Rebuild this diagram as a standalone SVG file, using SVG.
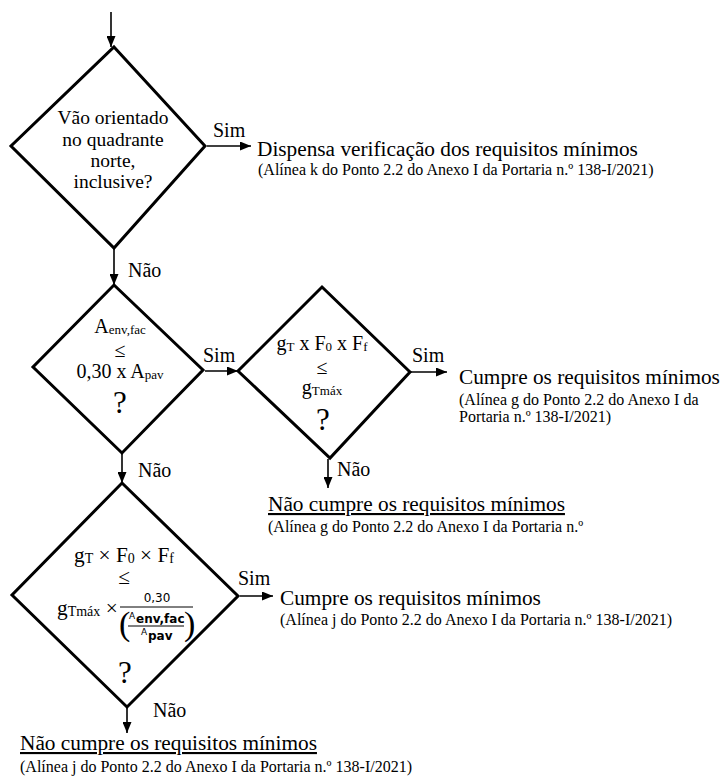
<svg xmlns="http://www.w3.org/2000/svg" width="722" height="778" viewBox="0 0 722 778">
<style>
text{font-family:"Liberation Serif","Times New Roman",serif;fill:#000}
.d{fill:#fff;stroke:#000;stroke-width:3;stroke-linejoin:miter}
.c{stroke:#000;stroke-width:1.6;fill:none}
.lb{font-size:20px}
.q{font-size:19.5px}
.m{font-size:20px}
.big{font-size:21.3px}
.sub{font-size:16px}
.qm{font-size:31px}
.u{text-decoration:underline}
.sf{font-family:"DejaVu Sans","Liberation Sans",sans-serif}
</style>
<defs>
<marker id="ah" markerUnits="userSpaceOnUse" markerWidth="11" markerHeight="9" refX="11" refY="4.5" orient="auto"><path d="M0,0 L11,4.5 L0,9 z" fill="#000"/></marker>
</defs>
<rect width="722" height="778" fill="#fff"/>
<g id="connectors">
<line class="c" x1="111" y1="12" x2="111" y2="47" marker-end="url(#ah)"/>
<line class="c" x1="207" y1="146" x2="251" y2="146" marker-end="url(#ah)"/>
<line class="c" x1="114" y1="248" x2="114" y2="285" marker-end="url(#ah)"/>
<line class="c" x1="205" y1="371" x2="238" y2="371" marker-end="url(#ah)"/>
<line class="c" x1="411" y1="372" x2="447" y2="372" marker-end="url(#ah)"/>
<line class="c" x1="328" y1="459" x2="328" y2="488" marker-end="url(#ah)"/>
<line class="c" x1="122" y1="453" x2="122" y2="483" marker-end="url(#ah)"/>
<line class="c" x1="240" y1="596" x2="273" y2="596" marker-end="url(#ah)"/>
<line class="c" x1="127" y1="707" x2="127" y2="733" marker-end="url(#ah)"/>
<text class="lb" x="213" y="137">Sim</text>
<text class="lb" x="128" y="277">Não</text>
<text class="lb" x="203" y="362">Sim</text>
<text class="lb" x="412" y="362">Sim</text>
<text class="lb" x="337" y="476">Não</text>
<text class="lb" x="138" y="477">Não</text>
<text class="lb" x="238" y="585">Sim</text>
<text class="lb" x="153" y="717">Não</text>
</g>
<g id="q1">
<polygon class="d" points="114,47 205,146 114,248 11,146"/>
<text class="q" text-anchor="middle" x="113" y="124">Vão orientado</text>
<text class="q" text-anchor="middle" x="113" y="146">no quadrante</text>
<text class="q" text-anchor="middle" x="113" y="167">norte,</text>
<text class="q" text-anchor="middle" x="113" y="188">inclusive?</text>
</g>
<g id="q2">
<polygon class="d" points="114,285 203,370 122,453 33,367"/>
<text class="m" text-anchor="middle" x="120" y="333">A<tspan font-size="13" dy="1">env,fac</tspan></text>
<text class="m" text-anchor="middle" x="120" y="357">≤</text>
<text class="m" text-anchor="middle" x="120" y="378">0,30 x A<tspan font-size="13" dy="1">pav</tspan></text>
<text class="qm" text-anchor="middle" x="120" y="413">?</text>
</g>
<g id="q3">
<polygon class="d" points="322,287 410,372 330,458 238,371"/>
<text class="m" text-anchor="middle" x="322" y="350">g<tspan font-size="13" dy="1">T</tspan><tspan dy="-1"> x F</tspan><tspan font-size="13" dy="1">0</tspan><tspan dy="-1"> x F</tspan><tspan font-size="13" dy="1">f</tspan></text>
<text class="m" text-anchor="middle" x="322" y="374">≤</text>
<text class="m" text-anchor="middle" x="322" y="394">g<tspan font-size="13" dy="1">Tmáx</tspan></text>
<text class="qm" text-anchor="middle" x="323" y="430">?</text>
</g>
<g id="q4">
<polygon class="d" points="122,483 238,596 127,707 12,595"/>
<text class="big" text-anchor="middle" x="124" y="562">g<tspan font-size="14" dy="1">T</tspan><tspan dy="-1"> × F</tspan><tspan font-size="14" dy="1">0</tspan><tspan dy="-1"> × F</tspan><tspan font-size="14" dy="1">f</tspan></text>
<text class="big" text-anchor="middle" x="124" y="584">≤</text>
<text class="big" x="57" y="615">g<tspan font-size="14" dy="1">Tmáx</tspan><tspan dy="-1"> ×</tspan></text>
<text class="sf" font-size="12" text-anchor="middle" x="157" y="602">0,30</text>
<line x1="120" y1="607" x2="193" y2="607" stroke="#000" stroke-width="1"/>
<text font-size="34" x="119" y="635">(</text>
<text font-size="34" x="184" y="635">)</text>
<text class="sf" font-size="9" x="129" y="619">A</text>
<text class="sf" font-size="12" font-weight="bold" x="136" y="623">env,fac</text>
<line x1="128" y1="626" x2="184" y2="626" stroke="#000" stroke-width="1"/>
<text class="sf" font-size="9" x="141" y="635">A</text>
<text class="sf" font-size="12" font-weight="bold" x="148" y="640">pav</text>
<text class="qm" text-anchor="middle" x="125" y="683">?</text>
</g>
<g id="r1">
<text class="big" x="257" y="156">Dispensa verificação dos requisitos mínimos</text>
<text class="sub" x="258" y="175">(Alínea k do Ponto 2.2 do Anexo I da Portaria n.º 138-I/2021)</text>
</g>
<g id="r2">
<text class="big" x="459" y="384">Cumpre os requisitos mínimos</text>
<text class="sub" x="459" y="405">(Alínea g do Ponto 2.2 do Anexo I da</text>
<text class="sub" x="459" y="422">Portaria n.º 138-I/2021)</text>
</g>
<g id="r3">
<text class="big u" x="268" y="511">Não cumpre os requisitos mínimos</text>
<text class="sub" x="268" y="532">(Alínea g do Ponto 2.2 do Anexo I da Portaria n.º</text>
</g>
<g id="r4">
<text class="big" x="280" y="605">Cumpre os requisitos mínimos</text>
<text class="sub" x="280" y="625">(Alínea j do Ponto 2.2 do Anexo I da Portaria n.º 138-I/2021)</text>
</g>
<g id="r5">
<text class="big u" x="20" y="750">Não cumpre os requisitos mínimos</text>
<text class="sub" x="20" y="772">(Alínea j do Ponto 2.2 do Anexo I da Portaria n.º 138-I/2021)</text>
</g>
</svg>
